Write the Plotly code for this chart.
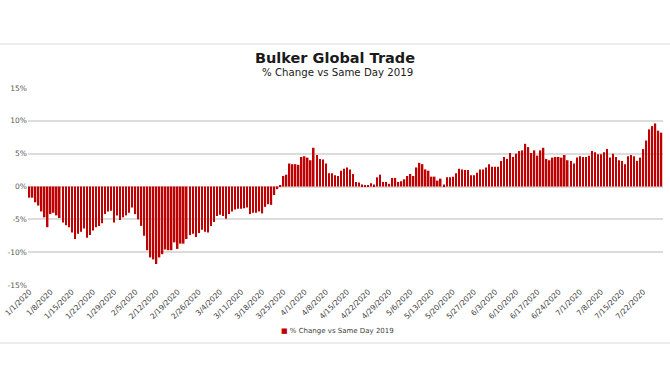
import pandas as pd
import plotly.graph_objects as go

start_date = "2020-01-01"
values = [
    -1.7, -1.7, -2.4, -2.9, -3.8, -4.7, -6.2, -4.2, -4.0, -4.4,
    -4.8, -5.5, -5.9, -6.2, -7.0, -8.0, -7.2, -6.9, -6.4, -7.8,
    -7.4, -6.7, -6.2, -6.0, -5.6, -4.2, -3.8, -3.7, -5.5, -4.4,
    -5.1, -4.7, -4.4, -4.0, -3.2, -4.2, -5.0, -6.0, -7.5, -9.7,
    -10.8, -11.1, -11.8, -10.8, -10.3, -9.6, -9.7, -9.7, -8.5, -9.5,
    -8.7, -8.7, -8.0, -7.4, -7.2, -7.7, -7.1, -6.6, -6.9, -7.0,
    -6.0, -5.4, -4.5, -4.3, -4.5, -4.9, -4.2, -3.8, -3.5, -3.4,
    -3.4, -3.3, -3.2, -4.2, -4.0, -4.0, -3.8, -4.1, -3.1, -2.7,
    -2.8, -1.3, -0.4, 0.2, 1.6, 1.8, 3.5, 3.4, 3.4, 3.3,
    4.5, 4.6, 4.4, 4.0, 5.9, 4.8, 4.2, 4.1, 3.5, 2.0,
    2.0, 1.7, 1.6, 2.4, 2.7, 2.9, 2.6, 1.9, 0.7, 0.6,
    0.3, 0.1, 0.1, 0.5, 0.3, 1.4, 1.8, 0.7, 0.7, 0.4,
    1.3, 1.3, 0.7, 0.8, 1.1, 1.6, 1.9, 1.6, 2.9, 3.6,
    3.4, 2.6, 2.4, 1.5, 1.5, 0.9, 1.2, 0.3, 1.4, 1.4,
    1.5, 2.0, 2.7, 2.6, 2.5, 2.5, 1.7, 1.7, 2.1, 2.6,
    2.6, 2.9, 3.4, 3.0, 3.0, 3.0, 3.9, 4.5, 4.2, 5.1,
    4.5, 5.0, 5.4, 5.5, 6.5, 6.0, 5.1, 5.5, 4.7, 5.5,
    5.9, 4.2, 4.0, 4.4, 4.5, 4.5, 4.4, 4.8, 4.0, 3.9,
    3.5, 4.4, 4.6, 4.5, 4.5, 4.7, 5.4, 5.2, 4.9, 4.9,
    5.2, 5.7, 4.4, 5.0, 4.5, 4.0, 3.9, 3.4, 4.6, 4.8,
    4.6, 3.9, 4.4, 5.7, 7.0, 8.7, 9.2, 9.6, 8.5, 8.2,
]
dates = pd.date_range(start_date, periods=len(values))
x_range = ["2019-12-31 12:00", "2020-07-28 12:00"]

tick_labels = [
    "1/1/2020", "1/8/2020", "1/15/2020", "1/22/2020", "1/29/2020",
    "2/5/2020", "2/12/2020", "2/19/2020", "2/26/2020", "3/4/2020",
    "3/11/2020", "3/18/2020", "3/25/2020", "4/1/2020", "4/8/2020",
    "4/15/2020", "4/22/2020", "4/29/2020", "5/6/2020", "5/13/2020",
    "5/20/2020", "5/27/2020", "6/3/2020", "6/10/2020", "6/17/2020",
    "6/24/2020", "7/1/2020", "7/8/2020", "7/15/2020", "7/22/2020",
]
tick_vals = [d.strftime("%Y-%m-%d") for d in pd.to_datetime(tick_labels, format="%m/%d/%Y")]

series_name = "% Change vs Same Day 2019"
y_ticks = [-15, -10, -5, 0, 5, 10, 15]
y_labels = ["-15%", "-10%", "-5%", "0%", "5%", "10%", "15%"]

RED = "#c00000"
FONT = "DejaVu Sans"

fig = go.Figure()
fig.add_trace(go.Bar(x=dates, y=values, marker=dict(color=RED, line=dict(width=0)),
                     showlegend=False, name=series_name))

fig.update_layout(
    width=670, height=380,
    margin=dict(l=28, r=7, t=88, b=95, autoexpand=False),
    paper_bgcolor="white", plot_bgcolor="white",
    bargap=0.5,
    font=dict(family=FONT, color="#404040"),
    title=dict(
        text="<b>Bulker Global Trade</b>",
        x=0.5, xanchor="center", xref="container",
        y=1 - 53 / 380, yanchor="top",
        font=dict(family=FONT, size=14.5, color="#1a1a1a"),
    ),
    showlegend=False,
    xaxis=dict(
        type="date", range=x_range, automargin=False,
        tickmode="array", tickvals=tick_vals, ticktext=tick_labels,
        tickangle=-45, tickfont=dict(family=FONT, size=7.5, color="#404040"),
        showgrid=False, showline=False, zeroline=False, ticks="",
    ),
    yaxis=dict(
        range=[-15, 15], tickmode="array", tickvals=y_ticks, ticktext=y_labels,
        automargin=False,
        tickfont=dict(family=FONT, size=7.5, color="#595959"),
        showgrid=True, gridcolor="#dcdcdc", gridwidth=1.5,
        zeroline=False, showline=False, ticks="",
    ),
    annotations=[
        dict(text="% Change vs Same Day 2019", xref="paper", yref="paper",
             x=0.487, y=1 + (88 - 73) / 197, xanchor="center", yanchor="middle",
             showarrow=False, font=dict(family=FONT, size=10.2, color="#1a1a1a")),
        dict(text="<span style='color:#c00000'>■</span> " + series_name,
             xref="paper", yref="paper",
             x=0.488, y=-(331 - 285) / 197, xanchor="center", yanchor="middle",
             showarrow=False, font=dict(family=FONT, size=7, color="#404040")),
    ],
    shapes=[
        dict(type="line", xref="paper", yref="paper", x0=-0.05, x1=1.02,
             y0=1.223, y1=1.223, line=dict(color="#e6e6e6", width=1.5)),
        dict(type="line", xref="paper", yref="paper", x0=-0.05, x1=1.02,
             y0=-0.294, y1=-0.294, line=dict(color="#e6e6e6", width=1.5)),
    ],
)

fig.write_html("out.html", config={"displayModeBar": False},
               post_script="document.body.style.margin='0';")
